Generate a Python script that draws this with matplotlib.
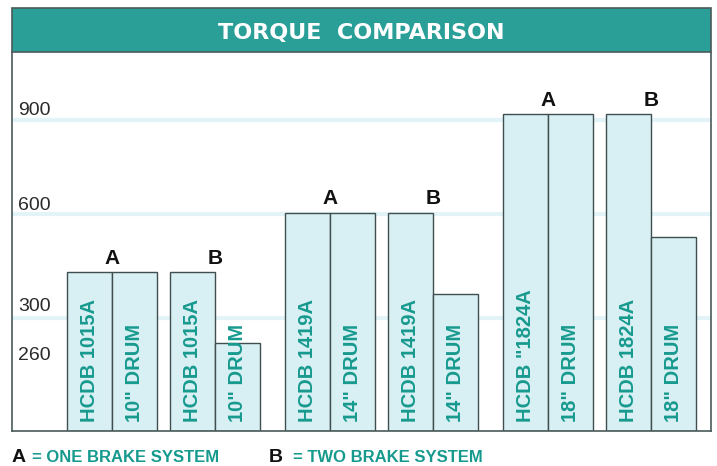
import matplotlib
matplotlib.use("Agg")
import matplotlib.pyplot as plt
from matplotlib.patches import Rectangle
import numpy as np

plt.rcParams['font.family'] = ['Liberation Sans', 'DejaVu Sans']

# Data
disc_a = ['HCDB 1015A', 'HCDB 1419A', 'HCDB "1824A']
disc_b = ['HCDB 1015A', 'HCDB 1419A', 'HCDB 1824A']
drums = ['10" DRUM', '14" DRUM', '18" DRUM']
disc_torque_a = [450, 620, 900]
drum_torque_a = [450, 620, 900]
disc_torque_b = [450, 620, 900]
drum_torque_b = [250, 390, 550]
tick_labels = ['900', '600', '300', '260']

# layout (the original axis is schematic, labels sit where it draws them)
tick_pos = [917, 647, 358, 221]
grid_pos = [883, 616, 321]

TEAL = '#2a9f98'
TEXT_TEAL = '#179a8e'
BAR = '#d8eff3'
EDGE = '#3f4f4f'
FRAME = '#4a5a5a'

fig = plt.figure(figsize=(7.17, 4.66), dpi=100)
W, H = 717, 466
ax = fig.add_axes([12 / W, (H - 431) / H, (711 - 12) / W, (431 - 52) / H])

# title bar
fig.patches.append(Rectangle((12 / W, (H - 52) / H), (711 - 12) / W, 44 / H,
                             transform=fig.transFigure, facecolor=TEAL,
                             edgecolor=FRAME, lw=1.2, zorder=0))
fig.text((12 + 711) / 2 / W, (H - 33) / H, 'TORQUE  COMPARISON', color='white',
         fontsize=16, fontweight='bold', family='DejaVu Sans',
         ha='center', va='center')

x = np.arange(len(drums))
pair_off = 0.236
w = 0.2064

for gl in grid_pos:
    ax.axhline(gl, color='#e2f4f7', lw=3, zorder=0)

groups = [
    ('A', -pair_off, disc_a, disc_torque_a, drum_torque_a),
    ('B', pair_off, disc_b, disc_torque_b, drum_torque_b),
]
for letter, off, names, disc_vals, drum_vals in groups:
    xd = x + off - w / 2
    xr = x + off + w / 2
    ax.bar(xd, disc_vals, width=w, color=BAR, edgecolor=EDGE, lw=1.0, zorder=2)
    ax.bar(xr, drum_vals, width=w, color=BAR, edgecolor=EDGE, lw=1.0, zorder=2)
    for i in range(len(x)):
        ax.annotate(names[i], (xd[i], 0), xytext=(0, 6.5), textcoords='offset points',
                    rotation=90, ha='center', va='bottom', color=TEXT_TEAL,
                    fontsize=14.5, fontweight='bold', zorder=3)
        ax.annotate(drums[i], (xr[i], 0), xytext=(0, 6.5), textcoords='offset points',
                    rotation=90, ha='center', va='bottom', color=TEXT_TEAL,
                    fontsize=14.5, fontweight='bold', zorder=3)
        top = max(disc_vals[i], drum_vals[i])
        ax.annotate(letter, (x[i] + off, top), xytext=(0, 3), textcoords='offset points',
                    ha='center', va='bottom', color='#111111', fontsize=15,
                    fontweight='bold')

ax.set_xlim(-0.695, 2.511)
ax.set_ylim(0, 1076)
ax.set_xticks([])
ax.set_yticks(tick_pos, tick_labels)
ax.tick_params(axis='y', direction='in', length=0, pad=-4.5, labelsize=14,
               labelcolor='#2a2a2a')
for lab in ax.get_yticklabels():
    lab.set_horizontalalignment('left')
for side in ['left', 'right', 'bottom']:
    ax.spines[side].set_color(FRAME)
    ax.spines[side].set_linewidth(1.2)
ax.spines['top'].set_visible(False)

# legend line at the bottom
ly = (H - 458) / H
fig.text(12 / W, ly, 'A', fontsize=14, fontweight='bold', color='#111111', va='center')
fig.text(32 / W, ly, '= ONE BRAKE SYSTEM', fontsize=12, fontweight='bold',
         color=TEXT_TEAL, va='center')
fig.text(269 / W, ly, 'B', fontsize=14, fontweight='bold', color='#111111', va='center')
fig.text(293 / W, ly, '= TWO BRAKE SYSTEM', fontsize=12, fontweight='bold',
         color=TEXT_TEAL, va='center')

fig.savefig('out.png', dpi=100)
